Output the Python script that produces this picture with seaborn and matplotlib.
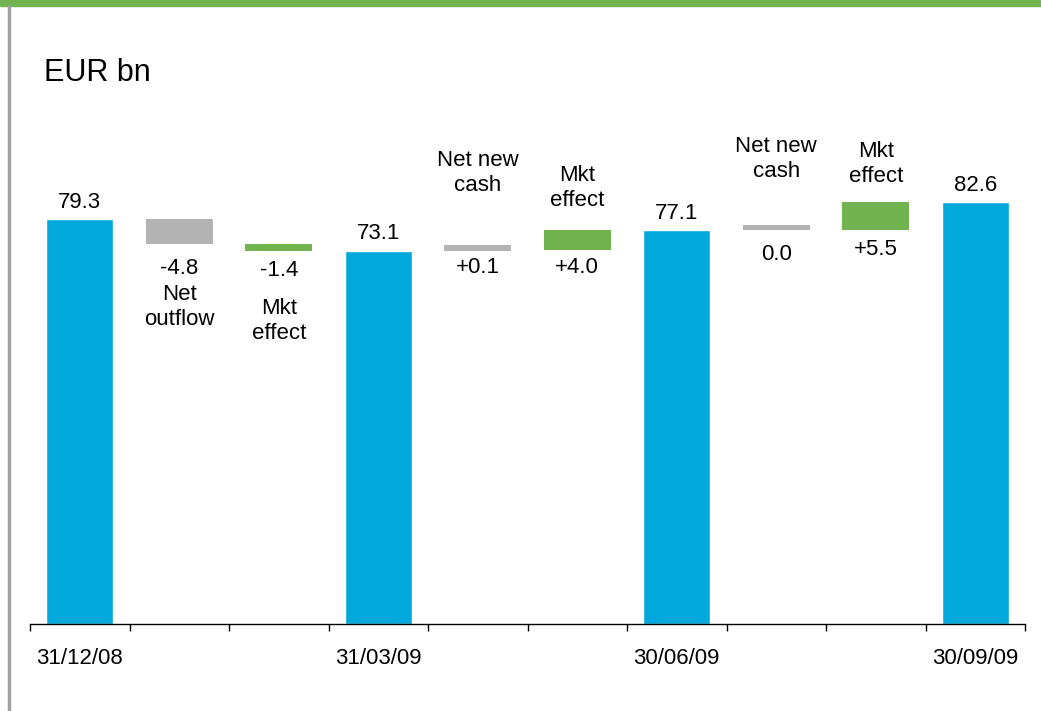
import matplotlib
matplotlib.use("Agg")
import matplotlib.pyplot as plt
from matplotlib.patches import Rectangle
import numpy as np
import pandas as pd
import seaborn as sns

# --- data -------------------------------------------------------------
steps = ["31/12/08", "Net outflow", "Mkt effect Q1", "31/03/09",
         "Net new cash Q2", "Mkt effect Q2", "30/06/09",
         "Net new cash Q3", "Mkt effect Q3", "30/09/09"]
kinds = ["total", "flow", "market", "total", "flow", "market",
         "total", "flow", "market", "total"]
values = [79.3, -4.8, -1.4, 73.1, 0.1, 4.0, 77.1, 0.0, 5.5, 82.6]
value_labels = ["79.3", "-4.8", "-1.4", "73.1", "+0.1", "+4.0",
                "77.1", "0.0", "+5.5", "82.6"]
step_names = ["", "Net\noutflow", "Mkt\neffect", "", "Net new\ncash",
              "Mkt\neffect", "", "Net new\ncash", "Mkt\neffect", ""]
date_labels = ["31/12/08", "31/03/09", "30/06/09", "30/09/09"]

# --- style ------------------------------------------------------------
BLUE = "#00A8DB"
GREY = "#B3B3B3"
GREEN = "#70B34F"
colors = {"total": BLUE, "flow": GREY, "market": GREEN}
BAR_W = 0.67
MIN_H = 1.1          # smallest drawn height for near-zero changes

# pixel offsets (centre of text) for the floating-bar annotations
value_gap = [0, 25, 20, 0, 17, 17, 0, 24, 19, 0]
name_gap = [0, 63, 70, 0, 72, 42, 0, 66, 38, 0]

sns.set_theme(style="white")
plt.rcParams["font.family"] = ["Liberation Sans", "DejaVu Sans"]

fig = plt.figure(figsize=(10.41, 7.11), dpi=100)
ax = fig.add_axes([30 / 1041, 1 - 624 / 711, 995 / 1041, 524 / 711])

df = pd.DataFrame({"step": steps, "kind": kinds, "value": values})
totals = df["value"].where(df["kind"] == "total")
sns.barplot(x=df["step"], y=totals, order=steps, color=BLUE,
            width=BAR_W, saturation=1, ax=ax)

# floating change bars, stacked on the running level
level = 0.0
bars = []
for i, (k, v) in enumerate(zip(kinds, values)):
    if k == "total":
        level = v
        bars.append((0.0, v))
        continue
    h = v if abs(v) >= MIN_H else MIN_H
    lo, hi = (level, level + h) if v >= 0 else (level + v, level)
    ax.bar(i, hi - lo, bottom=lo, width=BAR_W, color=colors[k],
           edgecolor="none")
    bars.append((lo, hi))
    level += v

txt = dict(fontsize=16, color="black", ha="center", va="center")
for i, (k, (lo, hi)) in enumerate(zip(kinds, bars)):
    if k == "total":
        ax.annotate(value_labels[i], (i, hi), xytext=(0, 17),
                    textcoords="offset pixels", **txt)
        continue
    ax.annotate(value_labels[i], (i, lo), xytext=(0, -value_gap[i]),
                textcoords="offset pixels", **txt)
    if values[i] < 0:
        ax.annotate(step_names[i], (i, lo), xytext=(0, -name_gap[i]),
                    textcoords="offset pixels", linespacing=1.25, **txt)
    else:
        ax.annotate(step_names[i], (i, hi), xytext=(0, name_gap[i]),
                    textcoords="offset pixels", linespacing=1.25, **txt)

# axes
ax.set_xlim(-0.5, len(steps) - 0.5)
ax.set_ylim(0, 524 / 5.107)
ax.set_xlabel("")
ax.set_ylabel("")
ax.set_yticks([])
date_pos = [i for i, k in enumerate(kinds) if k == "total"]
ax.set_xticks(date_pos)
ax.set_xticklabels(date_labels, fontsize=16)
ax.set_xticks(np.arange(-0.5, len(steps), 1.0), minor=True)
ax.tick_params(axis="x", which="major", length=0, pad=17, colors="black")
ax.tick_params(axis="x", which="minor", bottom=True, length=5, width=1,
               color="black", direction="out")
for side in ["top", "right", "left"]:
    ax.spines[side].set_visible(False)
ax.spines["bottom"].set_color("black")
ax.spines["bottom"].set_linewidth(1)

# frame decorations and unit label
fig.patches.append(Rectangle((0, 1 - 6 / 711), 1, 6 / 711,
                             transform=fig.transFigure, color="#70B34F",
                             zorder=5))
fig.patches.append(Rectangle((8 / 1041, 0), 2 / 1041, 1 - 6 / 711,
                             transform=fig.transFigure, color="#A0A0A0",
                             zorder=5))
fig.text(44 / 1041, 1 - 73 / 711, "EUR bn", fontsize=22, ha="left",
         va="center", color="black")

fig.savefig("out.png", dpi=100, facecolor="white")
